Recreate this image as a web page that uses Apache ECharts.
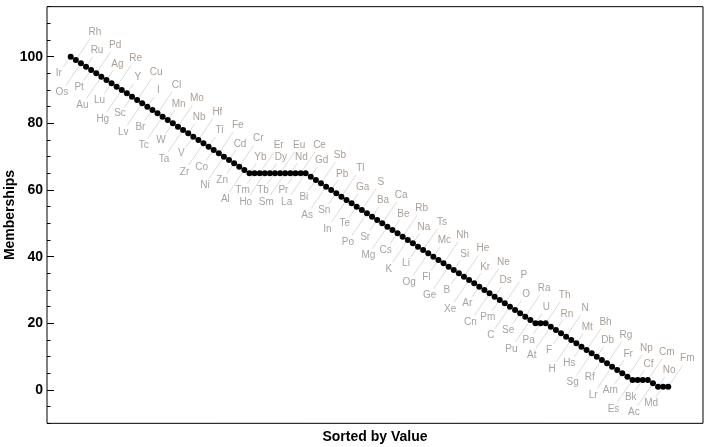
<!DOCTYPE html>
<html>
<head>
<meta charset="utf-8">
<script src="https://cdn.jsdelivr.net/npm/echarts@6/dist/echarts.min.js"></script>
<style>
html,body{margin:0;padding:0;background:#fff;}
#chart{width:720px;height:447px;}
</style>
</head>
<body>
<div id="chart"></div>
<script>
// Elements in sorted order (by value, descending)
const elements = [
  'Ir','Rh','Os','Ru','Pt','Pd','Au','Ag','Lu','Re','Hg','Y','Sc','Cu','Lv','I',
  'Br','Cl','Tc','Mn','W','Mo','Ta','Nb','V','Hf','Zr','Ti','Co','Fe','Ni','Cd',
  'Zn','Cr','Al','Yb','Tm','Er','Ho','Dy','Tb','Eu','Sm','Nd','Pr','Ce','La','Gd',
  'Bi','Sb','As','Pb','Sn','Tl','In','Ga','Te','S','Po','Ba','Sr','Ca','Mg','Be',
  'Cs','Rb','K','Na','Li','Ts','Og','Mc','Fl','Nh','Ge','Si','B','He','Xe','Kr',
  'Ar','Ne','Cn','Ds','Pm','P','C','O','Se','Ra','Pu','U','Pa','Th','At','Rn',
  'F','N','H','Mt','Hs','Bh','Sg','Db','Rf','Rg','Lr','Fr','Am','Np','Es','Cf',
  'Bk','Cm','Ac','No','Md','Fm'
];
// Memberships
const memberships = [
  100,99,98,97,96,95,94,93,92,91,90,89,88,87,86,85,84,83,82,81,
  80,79,78,77,76,75,74,73,72,71,70,69,68,67,66,
  65,65,65,65,65,65,65,65,65,65,65,65,
  64,63,62,61,60,59,58,57,56,55,54,53,52,51,50,49,48,47,46,45,
  44,43,42,41,40,39,38,37,36,35,34,33,32,31,30,29,28,27,26,25,
  24,23,22,21,
  20,20,20,
  19,18,17,16,15,14,13,12,11,10,9,8,7,6,5,4,
  3,3,3,3,2,1,1,1
];
const yTickLabels = [0, 20, 40, 60, 80, 100];

// label placement per position in the 4-step stagger: [textDx, textDy, lineDx, lineDy]
const OFFS = [
  [-12, 17, -7.5, 10.5],
  [19, -28, 14.5, -21.5],
  [-19, 29, -15, 22],
  [11, -16, 6.8, -9.8]
];
const LABEL_COLORS = ['#a2a4a8', '#ab9f94', '#a2a4a8', '#ab9f94'];

const chart = echarts.init(document.getElementById('chart'), null, {renderer: 'canvas'});
const pts = memberships.map((v, i) => [i, v]);
const FONT = '"Liberation Sans", Arial, sans-serif';

const option = {
  animation: false,
  backgroundColor: '#fff',
  grid: {left: 47, right: 17, top: 6.67, bottom: 23.67, show: true, borderColor: '#000', borderWidth: 1,
         containLabel: false, outerBoundsMode: 'none'},
  xAxis: {
    type: 'value', min: -4.64, max: 123.8,
    name: 'Sorted by Value', nameLocation: 'middle', nameGap: 7, nameMoveOverlap: false,
    nameTextStyle: {fontFamily: FONT, fontWeight: 'bold', fontSize: 14, color: '#000'},
    axisLine: {show: false, onZero: false}, axisTick: {show: false}, axisLabel: {show: false}, splitLine: {show: false}
  },
  yAxis: [
    {
      type: 'value', min: -10, max: 115, interval: 5, position: 'left', offset: 0,
      name: 'Memberships', nameLocation: 'middle', nameGap: 30, nameRotate: 90, nameMoveOverlap: false,
      nameTextStyle: {fontFamily: FONT, fontWeight: 'bold', fontSize: 14, color: '#000'},
      axisLine: {show: false, onZero: false},
      axisTick: {show: true, inside: true, length: 3.5, lineStyle: {color: '#000', width: 1}},
      axisLabel: {
        show: true, margin: 4, fontFamily: FONT, fontWeight: 'bold', fontSize: 14, color: '#000',
        formatter: function (v) { return yTickLabels.indexOf(v) >= 0 ? String(v) : ''; }
      },
      splitLine: {show: false}
    },
    {
      type: 'value', min: -10, max: 115, position: 'left', offset: 0,
      axisLine: {show: false, onZero: false},
      axisTick: {show: true, inside: true, length: 7, customValues: yTickLabels, lineStyle: {color: '#000', width: 1}},
      axisLabel: {show: false},
      splitLine: {show: false}
    }
  ],
  series: [
    {
      type: 'custom',
      data: pts,
      z: 2,
      silent: true,
      renderItem: function (params, api) {
        const i = params.dataIndex;
        const p = api.coord([api.value(0), api.value(1)]);
        const o = OFFS[i % 4];
        return {
          type: 'group',
          children: [
            {type: 'line', shape: {x1: p[0], y1: p[1], x2: p[0] + o[2], y2: p[1] + o[3]},
             style: {stroke: '#d0d0d0', lineWidth: 0.8}},
            {type: 'text', x: p[0] + o[0], y: p[1] + o[1],
             style: {text: elements[i], fill: LABEL_COLORS[i % 4], font: '10px ' + FONT, align: 'center', verticalAlign: 'middle'}}
          ]
        };
      }
    },
    {
      type: 'scatter',
      data: pts,
      z: 5,
      symbol: 'circle',
      symbolSize: 6,
      itemStyle: {color: '#000', opacity: 1},
      silent: true
    }
  ]
};
chart.setOption(option);
</script>
</body>
</html>
